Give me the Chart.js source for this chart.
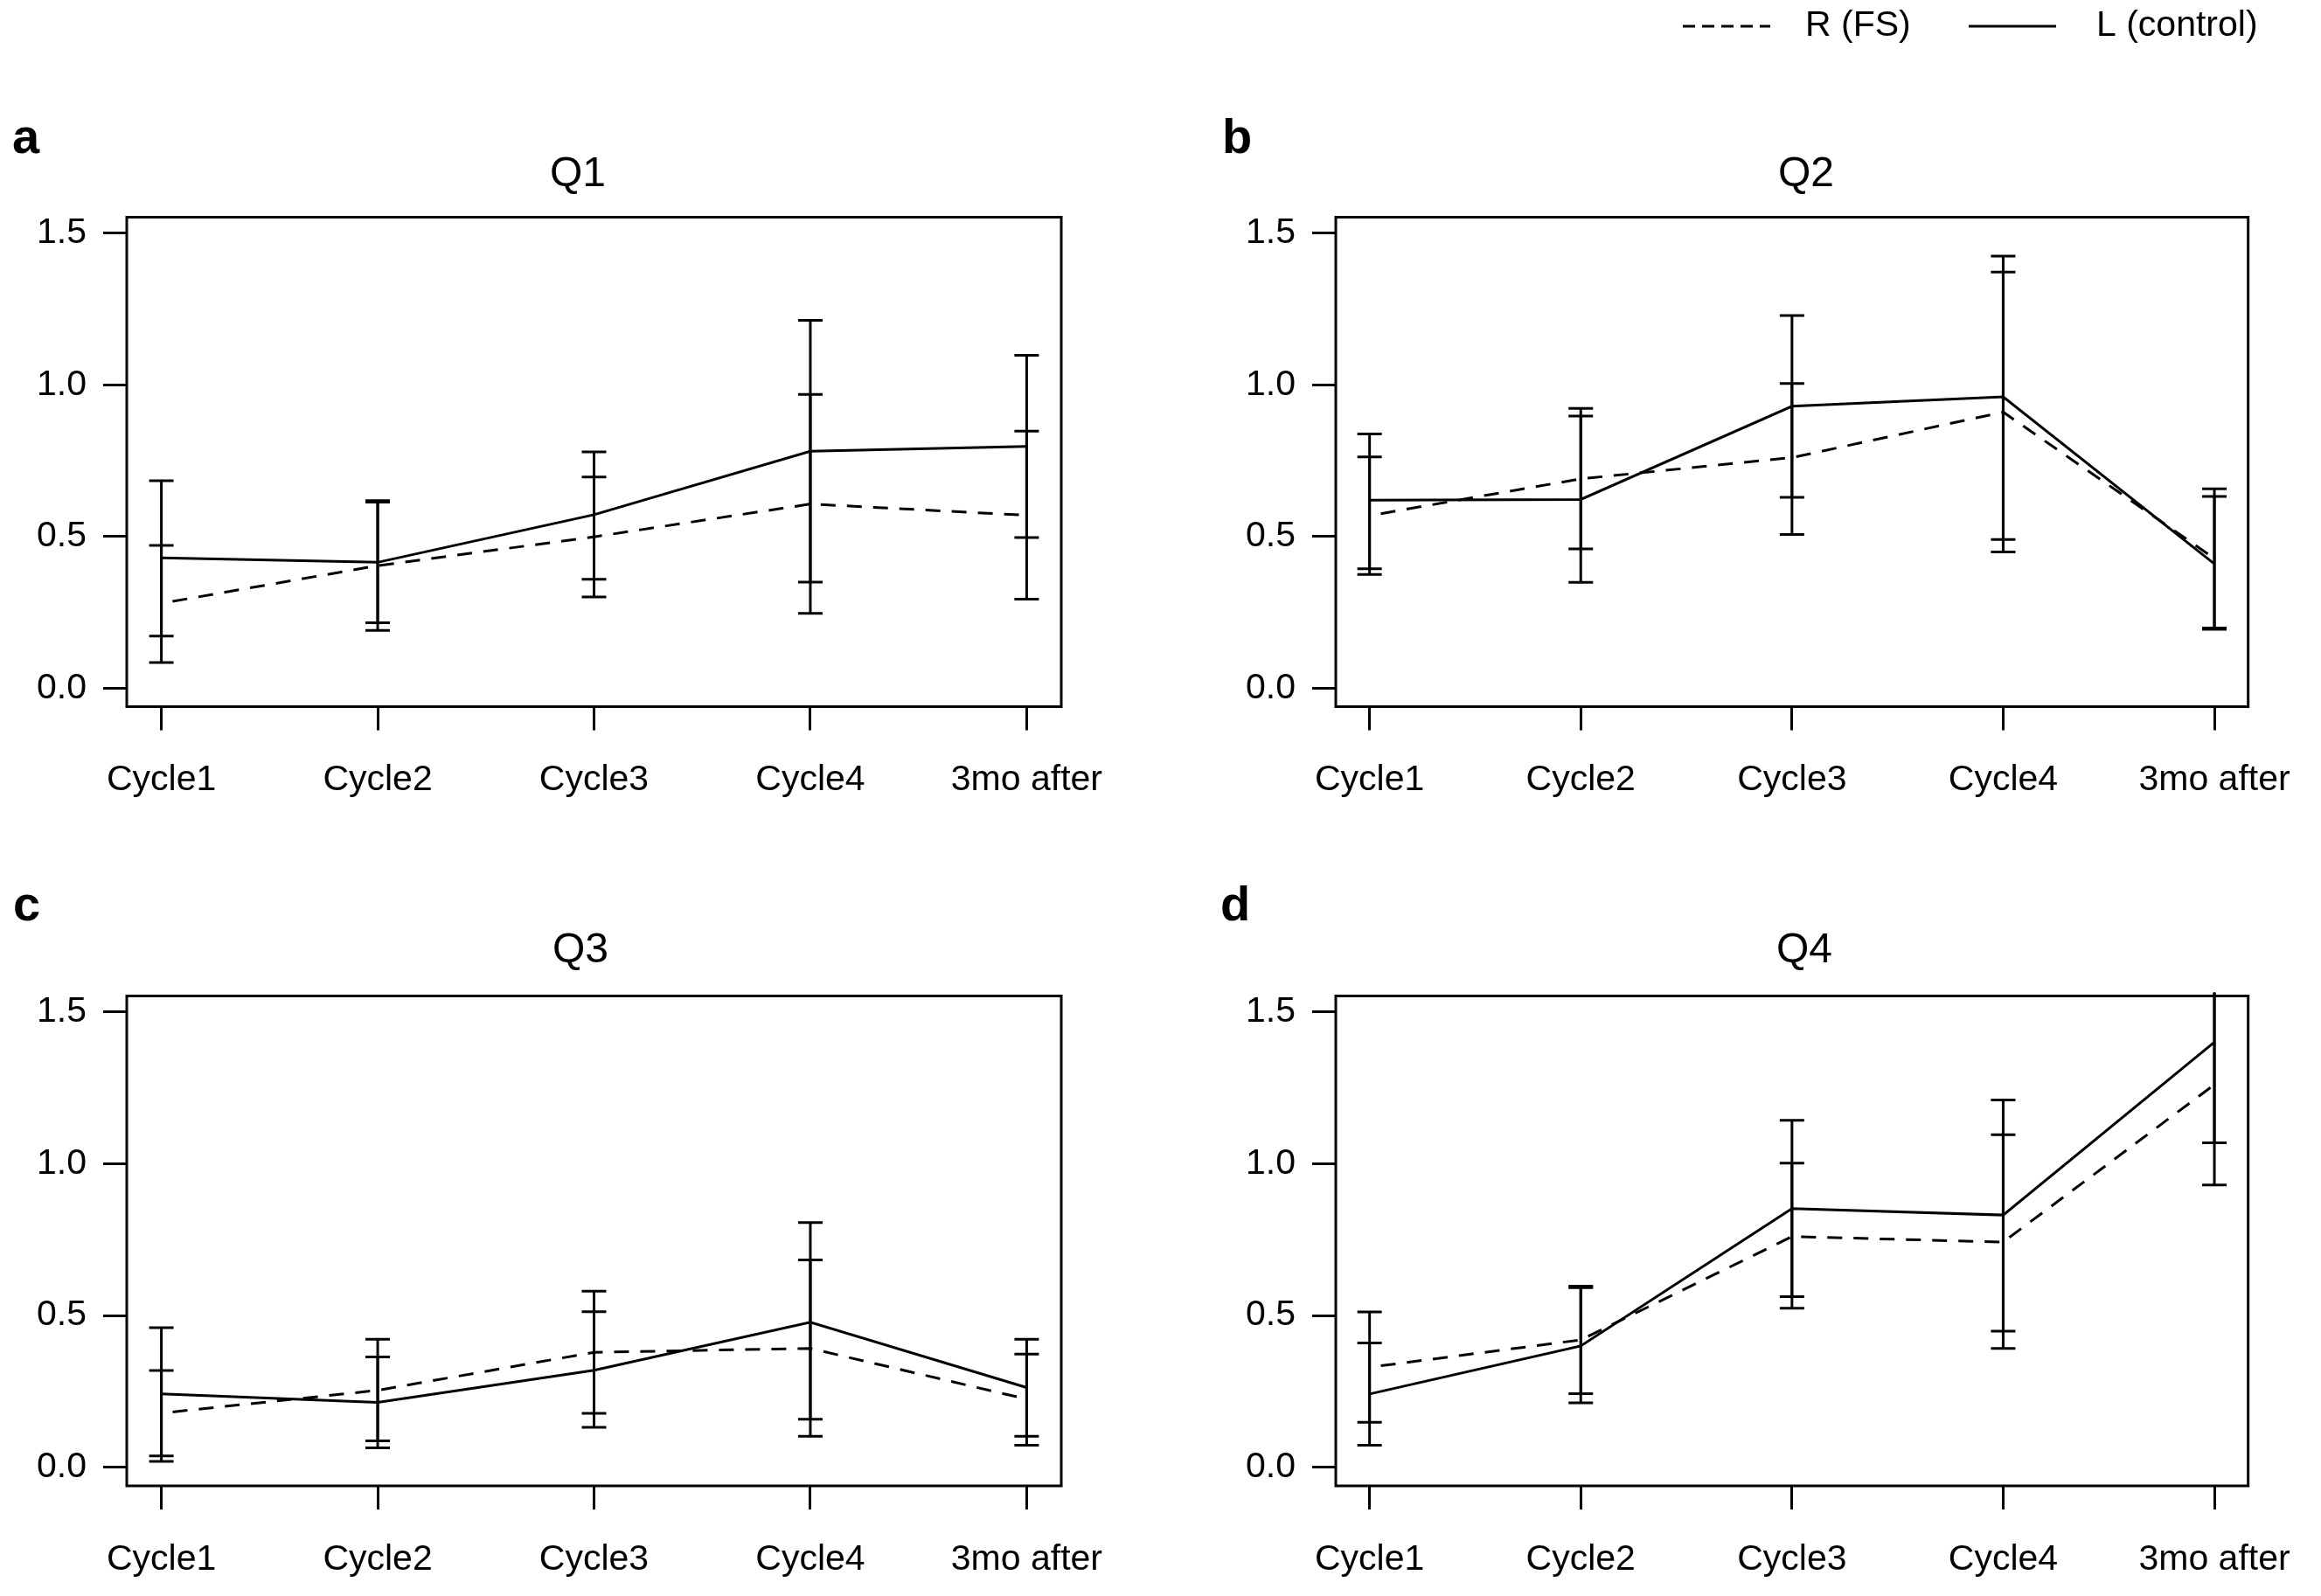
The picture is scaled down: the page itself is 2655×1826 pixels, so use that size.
<!DOCTYPE html>
<html>
<head>
<meta charset="utf-8">
<script src="https://cdn.jsdelivr.net/npm/chart.js@4.4.1/dist/chart.umd.min.js"></script>
<style>
  html, body { margin: 0; padding: 0; background: #fff; }
  body { width: 2655px; height: 1826px; position: relative; overflow: hidden; }
  canvas { position: absolute; }
</style>
</head>
<body>
<canvas id="cA" width="1327" height="913" style="left:0px;top:0px;width:1327px;height:913px"></canvas>
<canvas id="cB" width="1328" height="913" style="left:1327px;top:0px;width:1328px;height:913px"></canvas>
<canvas id="cC" width="1327" height="913" style="left:0px;top:913px;width:1327px;height:913px"></canvas>
<canvas id="cD" width="1328" height="913" style="left:1327px;top:913px;width:1328px;height:913px"></canvas>
<script>
// ---------------- data ----------------
const categories = ['Cycle1', 'Cycle2', 'Cycle3', 'Cycle4', '3mo after'];
const yTicks = [0, 0.5, 1.0, 1.5];
const seriesNames = ['R (FS)', 'L (control)'];
const panelTitles = ['Q1', 'Q2', 'Q3', 'Q4'];
const panelLetters = ['a', 'b', 'c', 'd'];

// Q1
const q1R     = [0.280, 0.404, 0.499, 0.607, 0.570];
const q1RLow  = [0.085, 0.191, 0.301, 0.247, 0.294];
const q1RHigh = [0.471, 0.618, 0.696, 0.968, 0.847];
const q1L     = [0.430, 0.415, 0.572, 0.781, 0.797];
const q1LLow  = [0.172, 0.216, 0.359, 0.350, 0.497];
const q1LHigh = [0.684, 0.613, 0.779, 1.212, 1.097];

// Q2
const q2R     = [0.569, 0.690, 0.760, 0.910, 0.428];
const q2RLow  = [0.375, 0.459, 0.507, 0.449, 0.199];
const q2RHigh = [0.762, 0.922, 1.004, 1.371, 0.657];
const q2L     = [0.620, 0.622, 0.929, 0.960, 0.410];
const q2LLow  = [0.394, 0.349, 0.629, 0.490, 0.194];
const q2LHigh = [0.838, 0.897, 1.228, 1.424, 0.632];

// Q3
const q3R     = [0.179, 0.254, 0.379, 0.392, 0.225];
const q3RLow  = [0.038, 0.088, 0.178, 0.103, 0.073];
const q3RHigh = [0.319, 0.422, 0.580, 0.683, 0.373];
const q3L     = [0.242, 0.214, 0.320, 0.478, 0.263];
const q3LLow  = [0.020, 0.065, 0.132, 0.159, 0.103];
const q3LHigh = [0.460, 0.364, 0.513, 0.806, 0.422];

// Q4
const q4R     = [0.330, 0.420, 0.760, 0.742, 1.260];
const q4RLow  = [0.149, 0.243, 0.524, 0.392, 0.930];
const q4RHigh = [0.512, 0.597, 1.002, 1.095, 1.590];
const q4L     = [0.242, 0.400, 0.852, 0.831, 1.400];
const q4LLow  = [0.073, 0.213, 0.562, 0.449, 1.069];
const q4LHigh = [0.410, 0.592, 1.143, 1.210, 1.731];

// ---------------- styling / layout ----------------
const FONT = "'Liberation Sans', Arial, Helvetica, sans-serif";
Chart.defaults.font.family = FONT;
Chart.defaults.color = '#000';

const DASH = [17, 13];
const LEGEND_DASH = [14, 8];

const panels = [
  { id: 'cA', ox: 0,    oy: 0,   R: q1R, RLo: q1RLow, RHi: q1RHigh, L: q1L, LLo: q1LLow, LHi: q1LHigh,
    yW: 145, padR: 113, padT: 248.5, xH: 104.5, titleX: 661, titleY: 213, letX: 14, letY: 175 },
  { id: 'cB', ox: 1327, oy: 0,   R: q2R, RLo: q2RLow, RHi: q2RHigh, L: q2L, LLo: q2LLow, LHi: q2LHigh,
    yW: 201, padR: 64,  padT: 248.5, xH: 104.5, titleX: 2066, titleY: 213, letX: 1398, letY: 175, legend: true },
  { id: 'cC', ox: 0,    oy: 913, R: q3R, RLo: q3RLow, RHi: q3RHigh, L: q3L, LLo: q3LLow, LHi: q3LHigh,
    yW: 145, padR: 113, padT: 226.5, xH: 126,   titleX: 664, titleY: 1101, letX: 15, letY: 1053 },
  { id: 'cD', ox: 1327, oy: 913, R: q4R, RLo: q4RLow, RHi: q4RHigh, L: q4L, LLo: q4LLow, LHi: q4LHigh,
    yW: 201, padR: 64,  padT: 226.5, xH: 126,   titleX: 2064, titleY: 1101, letX: 1396, letY: 1053 }
];

// ---------------- plugins ----------------
const errorBarPlugin = {
  id: 'errorBars',
  afterDatasetsDraw(chart) {
    const { ctx, chartArea, scales } = chart;
    const xs = scales.x, ys = scales.y;
    ctx.save();
    ctx.beginPath();
    ctx.rect(chartArea.left, chartArea.top - 4, chartArea.right - chartArea.left, chartArea.bottom - chartArea.top + 4);
    ctx.clip();
    ctx.strokeStyle = '#000';
    ctx.lineWidth = 3;
    ctx.setLineDash([]);
    ctx.lineCap = 'butt';
    chart.data.datasets.forEach(ds => {
      ds.errLow.forEach((lo, j) => {
        const px = xs.getPixelForValue(ds.data[j].x);
        const p1 = ys.getPixelForValue(lo);
        const p2 = ys.getPixelForValue(ds.errHigh[j]);
        ctx.beginPath();
        ctx.moveTo(px, p1); ctx.lineTo(px, p2);
        ctx.moveTo(px - 14, p1); ctx.lineTo(px + 14, p1);
        ctx.moveTo(px - 14, p2); ctx.lineTo(px + 14, p2);
        ctx.stroke();
      });
    });
    ctx.restore();
  }
};

const boxPlugin = {
  id: 'plotBox',
  afterDraw(chart, args, opts) {
    const { ctx, chartArea } = chart;
    ctx.save();
    ctx.strokeStyle = '#000';
    ctx.lineWidth = 3;
    ctx.setLineDash([]);
    ctx.strokeRect(chartArea.left, chartArea.top, chartArea.right - chartArea.left, chartArea.bottom - chartArea.top);

    // panel title and letter
    ctx.fillStyle = '#000';
    ctx.textBaseline = 'alphabetic';
    ctx.textAlign = 'center';
    ctx.font = '48px ' + FONT;
    ctx.fillText(opts.title, opts.titleX, opts.titleY);
    ctx.textAlign = 'left';
    ctx.font = 'bold 56px ' + FONT;
    ctx.fillText(opts.letter, opts.letX, opts.letY);

    // legend (top right of the figure)
    if (opts.legend) {
      const ox = opts.ox;
      const ly = 30;
      ctx.lineWidth = 3;
      ctx.strokeStyle = '#000';
      ctx.setLineDash(LEGEND_DASH);
      ctx.beginPath(); ctx.moveTo(1925 - ox, ly); ctx.lineTo(2025 - ox, ly); ctx.stroke();
      ctx.setLineDash([]);
      ctx.beginPath(); ctx.moveTo(2252 - ox, ly); ctx.lineTo(2352 - ox, ly); ctx.stroke();
      ctx.font = '41px ' + FONT;
      ctx.textBaseline = 'middle';
      ctx.textAlign = 'left';
      ctx.fillText(seriesNames[0], 2065 - ox, ly);
      ctx.fillText(seriesNames[1], 2398 - ox, ly);
    }
    ctx.restore();
  }
};

// ---------------- charts ----------------
panels.forEach((p, k) => {
  const toPts = arr => arr.map((v, i) => ({ x: i + 1, y: v }));
  new Chart(document.getElementById(p.id), {
    type: 'line',
    data: {
      datasets: [
        { label: seriesNames[0], data: toPts(p.R), errLow: p.RLo, errHigh: p.RHi,
          borderColor: '#000', borderWidth: 3, borderDash: DASH, borderDashOffset: 17,
          pointRadius: 0, fill: false, tension: 0 },
        { label: seriesNames[1], data: toPts(p.L), errLow: p.LLo, errHigh: p.LHi,
          borderColor: '#000', borderWidth: 3, pointRadius: 0, fill: false, tension: 0 }
      ]
    },
    options: {
      responsive: false,
      animation: false,
      devicePixelRatio: 1,
      layout: { padding: { left: 0, right: p.padR, top: p.padT, bottom: 0 } },
      plugins: {
        legend: { display: false },
        tooltip: { enabled: false },
        plotBox: { title: panelTitles[k], letter: panelLetters[k],
                   titleX: p.titleX - p.ox, titleY: p.titleY - p.oy,
                   letX: p.letX - p.ox, letY: p.letY - p.oy,
                   legend: !!p.legend, ox: p.ox }
      },
      scales: {
        x: {
          type: 'linear', min: 0.84, max: 5.16,
          afterBuildTicks: s => { s.ticks = categories.map((c, i) => ({ value: i + 1 })); },
          afterFit: s => { s.height = p.xH; },
          ticks: { autoSkip: false, maxRotation: 0, minRotation: 0, padding: 33,
                   font: { size: 41 }, color: '#000',
                   callback: v => categories[Math.round(v) - 1] },
          grid: { display: true, drawOnChartArea: false, drawTicks: true, tickLength: 27,
                  tickWidth: 3, tickColor: '#000', color: '#000', lineWidth: 3 },
          border: { display: false }
        },
        y: {
          type: 'linear', min: -0.0605, max: 1.552,
          afterBuildTicks: s => { s.ticks = yTicks.map(v => ({ value: v })); },
          afterFit: s => { s.width = p.yW; },
          ticks: { padding: 19, font: { size: 41 }, color: '#000',
                   callback: v => Number(v).toFixed(1) },
          grid: { display: true, drawOnChartArea: false, drawTicks: true, tickLength: 27,
                  tickWidth: 3, tickColor: '#000', color: '#000', lineWidth: 3 },
          border: { display: false }
        }
      }
    },
    plugins: [errorBarPlugin, boxPlugin]
  });
});
</script>
</body>
</html>
